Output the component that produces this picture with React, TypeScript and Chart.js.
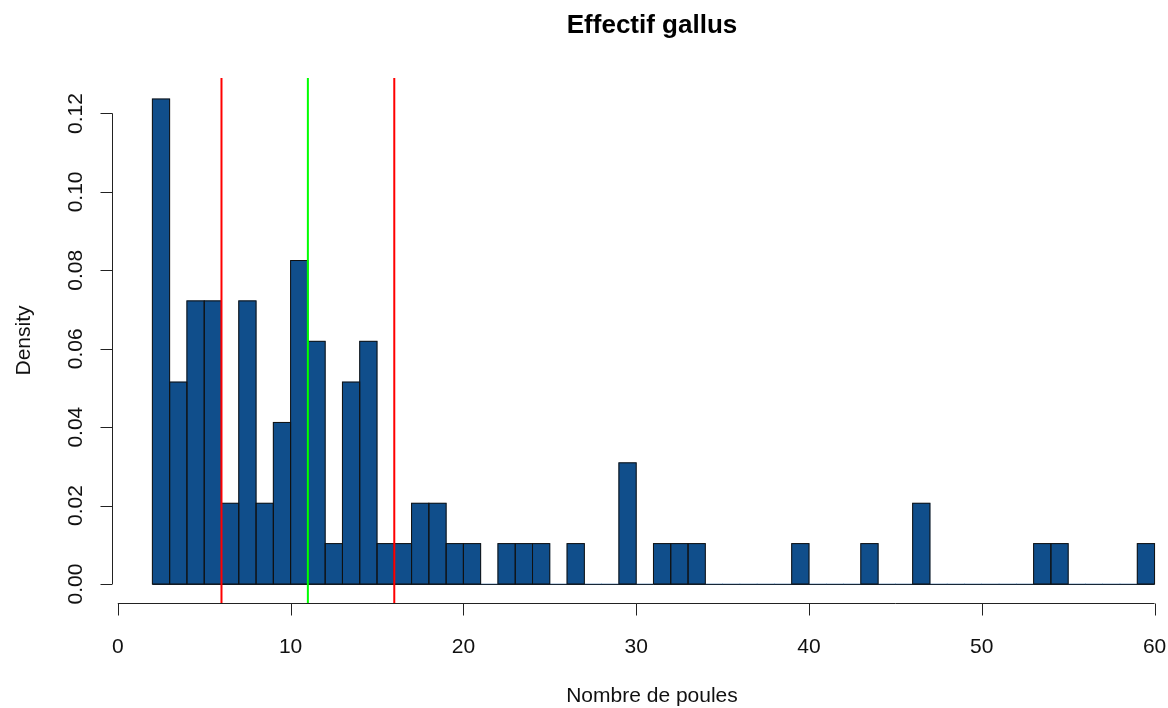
import React, { useEffect, useRef } from "react";
import { Chart, registerables } from "chart.js";

Chart.register(...registerables);

// Histogram bins (left edges, width 1) and densities
const binStarts = [
  2, 3, 4, 5, 6, 7, 8, 9, 10, 11, 12, 13, 14, 15, 16, 17, 18, 19, 20, 21,
  22, 23, 24, 25, 26, 27, 28, 29, 30, 31, 32, 33, 34, 35, 36, 37, 38, 39, 40,
  41, 42, 43, 44, 45, 46, 47, 48, 49, 50, 51, 52, 53, 54, 55, 56, 57, 58, 59,
];
const densities = [
  0.1237, 0.0515, 0.0722, 0.0722, 0.0206, 0.0722, 0.0206, 0.0412, 0.0825, 0.0619,
  0.0103, 0.0515, 0.0619, 0.0103, 0.0103, 0.0206, 0.0206, 0.0103, 0.0103, 0,
  0.0103, 0.0103, 0.0103, 0, 0.0103, 0, 0, 0.0309, 0, 0.0103,
  0.0103, 0.0103, 0, 0, 0, 0, 0, 0.0103, 0, 0,
  0, 0.0103, 0, 0, 0.0206, 0, 0, 0, 0, 0,
  0, 0.0103, 0.0103, 0, 0, 0, 0, 0.0103,
];
const binWidth = 1;

// Reference vertical lines (quantiles / median)
const refLineValues = [6, 11, 16];
const refLineColors = ["#FF0000", "#00FF00", "#FF0000"];

// Axis ticks
const xTickValues = [0, 10, 20, 30, 40, 50, 60];
const xTickLabels = ["0", "10", "20", "30", "40", "50", "60"];
const yTickValues = [0, 0.02, 0.04, 0.06, 0.08, 0.1, 0.12];
const yTickLabels = ["0.00", "0.02", "0.04", "0.06", "0.08", "0.10", "0.12"];

const titleText = "Effectif gallus";
const xTitle = "Nombre de poules";
const yTitle = "Density";

const FONT = '"Liberation Sans", Arial, Helvetica, sans-serif';

export default function App() {
  const canvasRef = useRef<HTMLCanvasElement | null>(null);

  useEffect(() => {
    document.body.style.margin = "0";
    const canvas = canvasRef.current;
    if (!canvas) return;

    const data = binStarts.map((s, i) => ({ x: s + binWidth / 2, y: densities[i] }));

    const rPlugin = {
      id: "rstyle",
      beforeDatasetsDraw(chart: any) {
        const ctx = chart.ctx;
        const xs = chart.scales.x;
        const ys = chart.scales.y;
        // zero-height baseline of the histogram
        ctx.save();
        ctx.strokeStyle = "#1a1a1a";
        ctx.lineWidth = 1;
        const y0 = Math.round(ys.getPixelForValue(0)) + 0.5;
        ctx.beginPath();
        ctx.moveTo(xs.getPixelForValue(binStarts[0]), y0);
        ctx.lineTo(xs.getPixelForValue(binStarts[binStarts.length - 1] + binWidth), y0);
        ctx.stroke();
        ctx.restore();
      },
      afterDatasetsDraw(chart: any) {
        const ctx = chart.ctx;
        const xs = chart.scales.x;
        const ys = chart.scales.y;
        const area = chart.chartArea;
        const meta = chart.getDatasetMeta(0);

        // bar outlines
        ctx.save();
        ctx.strokeStyle = "#111111";
        ctx.lineWidth = 1;
        meta.data.forEach((el: any, i: number) => {
          if (densities[i] <= 0) return;
          const p = el.getProps(["x", "y", "base", "width"], true);
          const l = p.x - p.width / 2;
          ctx.strokeRect(l, p.y, p.width, p.base - p.y);
        });
        ctx.restore();

        // vertical reference lines
        ctx.save();
        ctx.lineWidth = 2;
        refLineValues.forEach((v, i) => {
          const px = xs.getPixelForValue(v);
          ctx.strokeStyle = refLineColors[i];
          ctx.beginPath();
          ctx.moveTo(px, area.top);
          ctx.lineTo(px, area.bottom);
          ctx.stroke();
        });
        ctx.restore();

        // axes
        ctx.save();
        ctx.strokeStyle = "#222222";
        ctx.fillStyle = "#111111";
        ctx.lineWidth = 1;
        // x axis
        const ax = Math.round(area.bottom) + 0.5;
        ctx.beginPath();
        ctx.moveTo(xs.getPixelForValue(xTickValues[0]), ax);
        ctx.lineTo(xs.getPixelForValue(xTickValues[xTickValues.length - 1]), ax);
        ctx.stroke();
        ctx.font = `21px ${FONT}`;
        ctx.textAlign = "center";
        ctx.textBaseline = "alphabetic";
        xTickValues.forEach((v, i) => {
          const px = Math.round(xs.getPixelForValue(v)) + 0.5;
          ctx.beginPath();
          ctx.moveTo(px, ax);
          ctx.lineTo(px, ax + 12);
          ctx.stroke();
          ctx.fillText(xTickLabels[i], xs.getPixelForValue(v), ax + 49);
        });
        // y axis
        const ay = Math.round(area.left) + 0.5;
        ctx.beginPath();
        ctx.moveTo(ay, ys.getPixelForValue(yTickValues[0]));
        ctx.lineTo(ay, ys.getPixelForValue(yTickValues[yTickValues.length - 1]));
        ctx.stroke();
        yTickValues.forEach((v, i) => {
          const py = Math.round(ys.getPixelForValue(v)) + 0.5;
          ctx.beginPath();
          ctx.moveTo(ay, py);
          ctx.lineTo(ay - 12, py);
          ctx.stroke();
          ctx.save();
          ctx.translate(ay - 30.5, ys.getPixelForValue(v));
          ctx.rotate(-Math.PI / 2);
          ctx.fillText(yTickLabels[i], 0, 0);
          ctx.restore();
        });

        // titles
        const cx = 652;
        ctx.font = `bold 26px ${FONT}`;
        ctx.fillStyle = "#000000";
        ctx.fillText(titleText, cx, 33);
        ctx.font = `21px ${FONT}`;
        ctx.fillStyle = "#111111";
        ctx.fillText(xTitle, cx, 702);
        ctx.save();
        ctx.translate(29.5, (area.top + area.bottom) / 2);
        ctx.rotate(-Math.PI / 2);
        ctx.fillText(yTitle, 0, 0);
        ctx.restore();
        ctx.restore();
      },
    };

    const chart = new Chart(canvas, {
      type: "bar",
      data: {
        datasets: [
          {
            data,
            backgroundColor: "#104E8B",
            borderWidth: 0,
            barPercentage: 1,
            categoryPercentage: 1,
            grouped: false,
          } as any,
        ],
      },
      options: {
        animation: false,
        responsive: false,
        maintainAspectRatio: false,
        layout: { padding: { left: 112, right: 4.8, top: 78, bottom: 105 } },
        plugins: {
          legend: { display: false },
          title: { display: false },
          tooltip: { enabled: false },
        },
        scales: {
          x: {
            type: "linear",
            display: false,
            min: -0.336,
            max: 60.5,
            offset: false,
          },
          y: {
            type: "linear",
            display: false,
            min: -0.00485,
            max: 0.12905,
          },
        },
      },
      plugins: [rPlugin],
    });

    return () => chart.destroy();
  }, []);

  return (
    <div style={{ width: 1168, height: 708, background: "#fff" }}>
      <canvas ref={canvasRef} width={1168} height={708} style={{ display: "block" }} />
    </div>
  );
}
